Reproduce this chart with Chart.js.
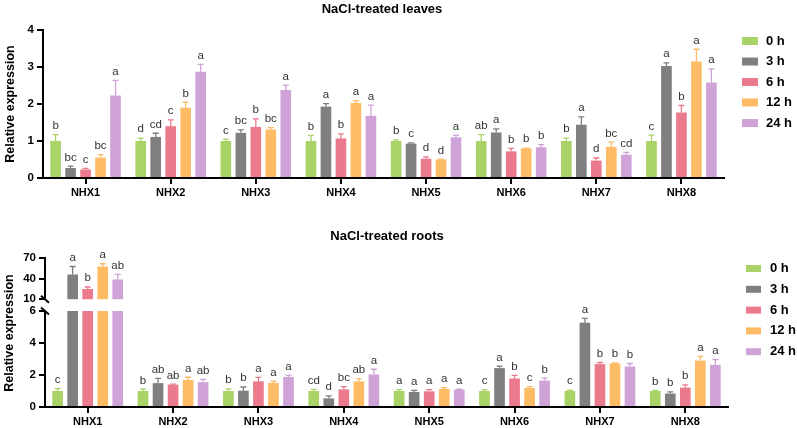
<!DOCTYPE html>
<html>
<head>
<meta charset="utf-8">
<script src="https://cdn.jsdelivr.net/npm/chart.js@4"></script>
<style>
  html, body { margin: 0; padding: 0; background: #fff; overflow: hidden; }
  #wrap { position: relative; width: 797px; height: 428px; }
  .box { position: absolute; left: 0; width: 797px; }
</style>
</head>
<body>
<div id="wrap">
  <div class="box" style="top:0;height:200px"><canvas id="leaves"></canvas></div>
  <div class="box" style="top:200px;height:228px"><canvas id="rootsHigh"></canvas></div>
  <div class="box" style="top:200px;height:228px"><canvas id="rootsLow"></canvas></div>
</div>
<script>
// genes and time points
const genes = ['NHX1', 'NHX2', 'NHX3', 'NHX4', 'NHX5', 'NHX6', 'NHX7', 'NHX8'];
const times = ['0 h', '3 h', '6 h', '12 h', '24 h'];
const colors = ['#a9d267', '#7f7f7f', '#ec7a8d', '#fdbb66', '#cfa2d8'];

// leaves - mean relative expression
const leaf0h  = [1.00, 1.00, 1.00, 1.00, 1.00, 1.00, 1.00, 1.00];
const leaf3h  = [0.27, 1.11, 1.22, 1.93, 0.93, 1.23, 1.44, 3.03];
const leaf6h  = [0.23, 1.40, 1.38, 1.07, 0.52, 0.72, 0.47, 1.77];
const leaf12h = [0.55, 1.90, 1.31, 2.03, 0.50, 0.80, 0.84, 3.15];
const leaf24h = [2.23, 2.87, 2.38, 1.68, 1.10, 0.83, 0.63, 2.58];
// leaves - error (SD)
const leafErr0h  = [0.17, 0.08, 0.05, 0.15, 0.03, 0.17, 0.08, 0.16];
const leafErr3h  = [0.05, 0.10, 0.08, 0.08, 0.02, 0.10, 0.21, 0.08];
const leafErr6h  = [0.03, 0.17, 0.22, 0.12, 0.05, 0.08, 0.07, 0.19];
const leafErr12h = [0.08, 0.15, 0.05, 0.06, 0.01, 0.01, 0.13, 0.33];
const leafErr24h = [0.41, 0.20, 0.13, 0.29, 0.05, 0.07, 0.06, 0.37];
// leaves - significance letters
const leafSig0h  = ['b', 'd', 'c', 'b', 'b', 'ab', 'b', 'c'];
const leafSig3h  = ['bc', 'cd', 'bc', 'a', 'c', 'a', 'a', 'a'];
const leafSig6h  = ['c', 'c', 'b', 'b', 'd', 'b', 'd', 'b'];
const leafSig12h = ['bc', 'b', 'bc', 'a', 'd', 'b', 'bc', 'a'];
const leafSig24h = ['a', 'a', 'a', 'a', 'a', 'b', 'cd', 'a'];

// roots - mean relative expression
const root0h  = [1.00, 1.00, 1.00, 1.00, 1.00, 1.00, 1.00, 1.00];
const root3h  = [46.4, 1.49, 1.02, 0.54, 0.94, 2.43, 5.27, 0.84];
const root6h  = [25.0, 1.40, 1.60, 1.10, 0.98, 1.78, 2.68, 1.21];
const root12h = [58.0, 1.69, 1.50, 1.60, 1.13, 1.19, 2.72, 2.90];
const root24h = [39.0, 1.55, 1.88, 2.03, 1.09, 1.65, 2.53, 2.64];
// roots - error (SD)
const rootErr0h  = [0.15, 0.12, 0.13, 0.10, 0.08, 0.08, 0.06, 0.04];
const rootErr3h  = [11.6, 0.30, 0.23, 0.15, 0.10, 0.12, 0.27, 0.10];
const rootErr6h  = [3.0, 0.03, 0.25, 0.17, 0.10, 0.20, 0.10, 0.17];
const rootErr12h = [4.0, 0.17, 0.12, 0.17, 0.08, 0.08, 0.03, 0.27];
const rootErr24h = [7.4, 0.18, 0.10, 0.33, 0.02, 0.15, 0.19, 0.33];
// roots - significance letters
const rootSig0h  = ['c', 'b', 'b', 'cd', 'a', 'c', 'c', 'b'];
const rootSig3h  = ['a', 'ab', 'b', 'd', 'a', 'a', 'a', 'b'];
const rootSig6h  = ['b', 'ab', 'a', 'bc', 'a', 'b', 'b', 'b'];
const rootSig12h = ['a', 'a', 'a', 'ab', 'a', 'c', 'b', 'a'];
const rootSig24h = ['ab', 'ab', 'a', 'a', 'a', 'b', 'b', 'a'];

const leafMeans = [leaf0h, leaf3h, leaf6h, leaf12h, leaf24h];
const leafErrs = [leafErr0h, leafErr3h, leafErr6h, leafErr12h, leafErr24h];
const leafSigs = [leafSig0h, leafSig3h, leafSig6h, leafSig12h, leafSig24h];
const rootMeans = [root0h, root3h, root6h, root12h, root24h];
const rootErrs = [rootErr0h, rootErr3h, rootErr6h, rootErr12h, rootErr24h];
const rootSigs = [rootSig0h, rootSig3h, rootSig6h, rootSig12h, rootSig24h];

const FONT = '"Liberation Sans", Arial, sans-serif';
Chart.defaults.font.family = FONT;
Chart.defaults.color = '#000';

function makeSets(means, errs, sigs) {
  return times.map((t, i) => ({
    label: t,
    data: means[i],
    errors: errs[i],
    sig: sigs[i],
    backgroundColor: colors[i],
    borderWidth: 0,
    barPercentage: 0.71,
    categoryPercentage: 0.88,
    clip: 0
  }));
}

// error bars (upper only) + letters above them
const errorBars = {
  id: 'errorBars',
  afterDatasetsDraw(chart) {
    const ctx = chart.ctx;
    const y = chart.scales.y;
    chart.data.datasets.forEach((ds, i) => {
      const meta = chart.getDatasetMeta(i);
      meta.data.forEach((bar, j) => {
        const v = ds.data[j];
        if (v == null || v > y.max || v < y.min) return;
        const top = y.getPixelForValue(v + ds.errors[j]);
        ctx.save();
        ctx.strokeStyle = ds.backgroundColor;
        ctx.lineWidth = 1.3;
        ctx.beginPath();
        ctx.moveTo(bar.x, bar.y);
        ctx.lineTo(bar.x, top);
        ctx.moveTo(bar.x - 3, top);
        ctx.lineTo(bar.x + 3, top);
        ctx.stroke();
        ctx.fillStyle = '#333';
        ctx.font = '11.5px ' + FONT;
        ctx.textAlign = 'center';
        ctx.textBaseline = 'bottom';
        ctx.fillText(ds.sig[j], bar.x, top - 3);
        ctx.restore();
      });
    });
  }
};

// legend drawn at the right side
const sideLegend = {
  id: 'sideLegend',
  afterDraw(chart, args, o) {
    if (!o || !o.show) return;
    const ctx = chart.ctx;
    ctx.save();
    chart.data.datasets.forEach((ds, i) => {
      const cy = o.y + i * o.step;
      ctx.fillStyle = ds.backgroundColor;
      ctx.fillRect(o.x, cy - o.h / 2, o.w, o.h);
      ctx.fillStyle = '#000';
      ctx.font = 'bold 13px ' + FONT;
      ctx.textAlign = 'left';
      ctx.textBaseline = 'middle';
      ctx.fillText(ds.label, o.textX, cy);
    });
    ctx.restore();
  }
};

// axis break marks and the shared y title of the roots panel
const axisExtras = {
  id: 'axisExtras',
  afterDraw(chart, args, o) {
    if (!o) return;
    const ctx = chart.ctx;
    const a = chart.chartArea;
    ctx.save();
    ctx.strokeStyle = '#000';
    ctx.lineWidth = 2;
    if (o.breakAt) {
      const by = o.breakAt === 'top' ? a.top : a.bottom;
      ctx.beginPath();
      ctx.moveTo(a.left - 4, by - 3.5);
      ctx.lineTo(a.left + 4, by + 3.5);
      ctx.stroke();
    }
    if (o.yTitle) {
      ctx.translate(o.yTitle.x, o.yTitle.y);
      ctx.rotate(-Math.PI / 2);
      ctx.fillStyle = '#000';
      ctx.font = 'bold 12.5px ' + FONT;
      ctx.textAlign = 'center';
      ctx.textBaseline = 'middle';
      ctx.fillText(o.yTitle.text, 0, 0);
    }
    ctx.restore();
  }
};

function axisGrid() {
  return { display: true, drawOnChartArea: false, drawTicks: true, tickLength: 6, offset: false, color: '#000', lineWidth: 2 };
}

function baseOptions(cfg) {
  return {
    responsive: true,
    maintainAspectRatio: false,
    animation: false,
    layout: { padding: cfg.padding },
    plugins: {
      legend: { display: false },
      tooltip: { enabled: false },
      title: cfg.title ? {
        display: true, text: cfg.title, color: '#000',
        font: { size: 13, weight: 'bold' }, padding: cfg.titlePad
      } : { display: false },
      sideLegend: cfg.legend || { show: false },
      axisExtras: cfg.extras || null
    },
    scales: {
      x: {
        display: cfg.showX,
        grid: axisGrid(),
        border: { display: true, color: '#000', width: 2 },
        ticks: { font: { size: 11, weight: 'bold' }, color: '#000', padding: 2 },
        afterFit: s => { s.height = cfg.xHeight; }
      },
      y: {
        min: cfg.yMin, max: cfg.yMax,
        grid: axisGrid(),
        border: { display: true, color: '#000', width: 2 },
        ticks: { stepSize: cfg.step, font: { size: 11.5, weight: 'bold' }, color: '#000', padding: 3 },
        title: cfg.yTitle ? { display: true, text: cfg.yTitle, color: '#000', font: { size: 12.5, weight: 'bold' }, padding: { top: 3, bottom: 0 } } : { display: false },
        afterFit: s => { s.width = cfg.yWidth; }
      },
      // empty right-hand axis, only reserves room for the legend
      legendSpace: {
        type: 'linear', position: 'right', display: true,
        grid: { display: false }, border: { display: false }, ticks: { display: false },
        afterFit: s => { s.width = cfg.legendRoom; }
      }
    }
  };
}

new Chart(document.getElementById('leaves'), {
  type: 'bar',
  data: { labels: genes, datasets: makeSets(leafMeans, leafErrs, leafSigs) },
  options: baseOptions({
    padding: { left: 0, right: 33, top: 0, bottom: 0 },
    legendRoom: 40,
    title: 'NaCl-treated leaves', titlePad: { top: 1.5, bottom: 12.9 },
    showX: true, xHeight: 22, yWidth: 43,
    yMin: 0, yMax: 4, step: 1, yTitle: 'Relative expression',
    legend: { show: true, x: 742, y: 41, step: 20.5, w: 16, h: 8, textX: 766 }
  }),
  plugins: [errorBars, sideLegend]
});

// roots, upper segment of the broken axis (10 - 70)
new Chart(document.getElementById('rootsHigh'), {
  type: 'bar',
  data: { labels: genes, datasets: makeSets(rootMeans, rootErrs, rootSigs) },
  options: baseOptions({
    padding: { left: 1, right: 24, top: 58.3, bottom: 128.7 },
    legendRoom: 45,
    showX: false, xHeight: 0, yWidth: 44,
    yMin: 10, yMax: 70, step: 30,
    extras: { breakAt: 'bottom' }
  }),
  plugins: [errorBars, axisExtras]
});

// roots, lower segment of the broken axis (0 - 6)
new Chart(document.getElementById('rootsLow'), {
  type: 'bar',
  data: { labels: genes, datasets: makeSets(rootMeans, rootErrs, rootSigs) },
  options: baseOptions({
    padding: { left: 1, right: 24, top: 0, bottom: 0 },
    legendRoom: 45,
    title: 'NaCl-treated roots', titlePad: { top: 29, bottom: 66.4 },
    showX: true, xHeight: 21, yWidth: 44,
    yMin: 0, yMax: 6, step: 2,
    legend: { show: true, x: 746, y: 68.5, step: 20.8, w: 15, h: 7, textX: 770 },
    extras: { breakAt: 'top', yTitle: { text: 'Relative expression', x: 10, y: 133 } }
  }),
  plugins: [errorBars, sideLegend, axisExtras]
});
</script>
</body>
</html>
